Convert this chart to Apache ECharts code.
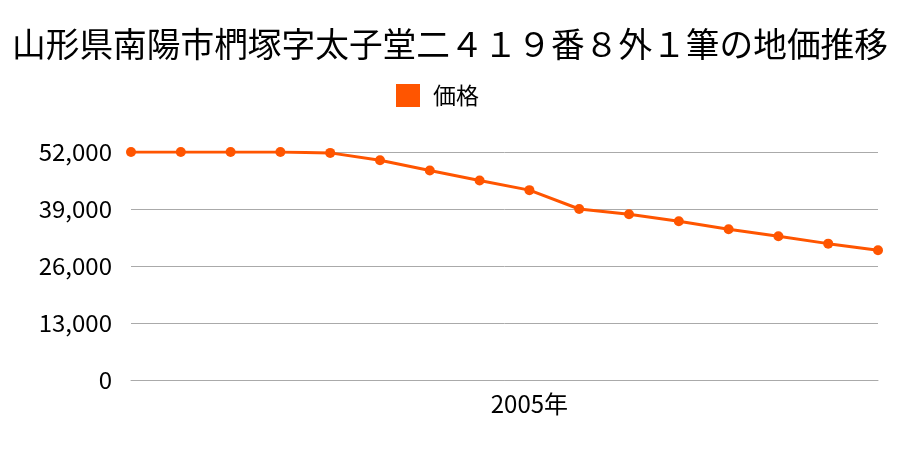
<!DOCTYPE html>
<html><head><meta charset="utf-8">
<script src="https://cdn.jsdelivr.net/npm/echarts@6/dist/echarts.min.js"></script>
<style>html,body{margin:0;padding:0;background:#fff}#c{width:900px;height:450px}</style>
</head><body><div id="c"></div>
<script>
const years = ['1997','1998','1999','2000','2001','2002','2003','2004','2005','2006','2007','2008','2009','2010','2011','2012'];
const prices = [52000,52000,52000,52000,51800,50100,47800,45500,43300,39000,37800,36200,34400,32800,31100,29600];
const yTicks = [0,13000,26000,39000,52000];
const labelYear = '2005';
const font = '"Noto Sans CJK JP", "Noto Sans", sans-serif';
const chart = echarts.init(document.getElementById('c'));
chart.setOption({
  animation:false,
  title:{text:'山形県南陽市椚塚字太子堂二４１９番８外１筆の地価推移',left:'center',top:22,
    textStyle:{fontFamily:font,fontSize:33.7,fontWeight:'normal',color:'#000'}},
  legend:{top:84,left:396,padding:0,itemWidth:24,itemHeight:23,icon:'rect',
    textStyle:{fontFamily:font,fontSize:23,color:'#000',padding:[0,0,0,8]},data:['価格']},
  grid:{left:131,right:22,top:152,bottom:70},
  xAxis:{type:'category',data:years,boundaryGap:false,
    axisLine:{lineStyle:{color:'#aaa'}},axisTick:{show:false},
    axisLabel:{interval:(i,v)=>v===labelYear,formatter:v=>v+'年',fontFamily:font,fontSize:24,color:'#000',margin:12}},
  yAxis:{type:'value',min:yTicks[0],max:yTicks[yTicks.length-1],interval:13000,
    axisLine:{show:false},axisTick:{show:false},
    splitLine:{lineStyle:{color:'#aaa'}},
    axisLabel:{fontFamily:font,fontSize:24,color:'#000',margin:19,
      formatter:v=>v.toLocaleString('en-US')}},
  series:[{name:'価格',type:'line',data:prices,color:'#ff5500',
    symbol:'circle',symbolSize:10,lineStyle:{width:3,color:'#ff5500'},itemStyle:{color:'#ff5500'}}]
});
</script></body></html>
